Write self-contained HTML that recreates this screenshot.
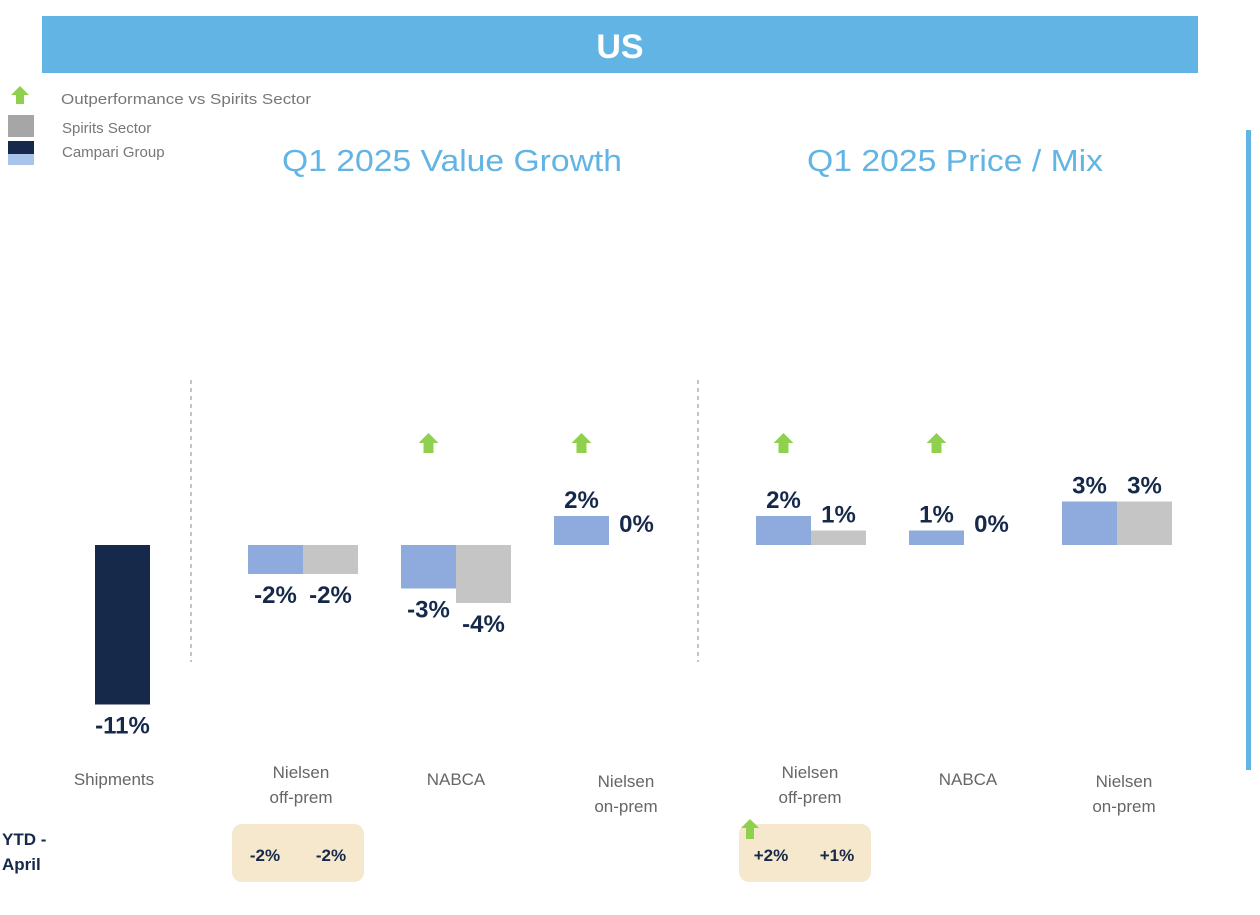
<!DOCTYPE html>
<html><head><meta charset="utf-8"><style>
body{margin:0;width:1260px;height:910px;background:#fff;overflow:hidden;font-family:"Liberation Sans",sans-serif;}
</style></head><body>
<svg id="c" width="1260" height="910" xmlns="http://www.w3.org/2000/svg">
<rect x="42" y="16" width="1156" height="57" fill="#62b4e4"/>
<text x="620" y="58" text-anchor="middle" font-size="34" font-weight="bold" fill="#fff">US</text>
<g>
<polygon points="20,86 11,95 16,95 16,104 24,104 24,95 29,95" fill="#8fd14f"/>
<text x="61" y="104" font-size="15" fill="#777" textLength="250" lengthAdjust="spacingAndGlyphs">Outperformance vs Spirits Sector</text>
<rect x="8" y="115" width="26" height="22" fill="#a6a6a6"/>
<text x="62" y="133" font-size="15" fill="#777">Spirits Sector</text>
<rect x="8" y="141" width="26" height="13" fill="#16294b"/>
<rect x="8" y="154" width="26" height="11" fill="#a9c4ea"/>
<text x="62" y="157" font-size="15" fill="#777">Campari Group</text>
</g>
<text x="452" y="171" text-anchor="middle" font-size="31" fill="#62b4e4" textLength="340" lengthAdjust="spacingAndGlyphs">Q1 2025 Value Growth</text>
<text x="955" y="171" text-anchor="middle" font-size="31" fill="#62b4e4" textLength="296" lengthAdjust="spacingAndGlyphs">Q1 2025 Price / Mix</text>
<line x1="191" y1="380" x2="191" y2="662" stroke="#888" stroke-dasharray="4,4"/>
<line x1="698" y1="380" x2="698" y2="662" stroke="#888" stroke-dasharray="4,4"/>
<rect x="1246" y="130" width="5" height="640" fill="#62b4e4"/>
<g id="bars"></g>
<text x="2" y="845" font-size="17" font-weight="bold" fill="#16294b">YTD -</text>
<text x="2" y="870" font-size="17" font-weight="bold" fill="#16294b">April</text>
<rect x="232" y="824" width="132" height="58" rx="10" fill="#f5e8cc"/>
<text x="265" y="861" text-anchor="middle" font-size="17" font-weight="bold" fill="#16294b">-2%</text>
<text x="331" y="861" text-anchor="middle" font-size="17" font-weight="bold" fill="#16294b">-2%</text>
<rect x="739" y="824" width="132" height="58" rx="10" fill="#f5e8cc"/>
<polygon points="750,819 741,828 746,828 746,839 754,839 754,828 759,828" fill="#8fd14f"/>
<text x="771" y="861" text-anchor="middle" font-size="17" font-weight="bold" fill="#16294b">+2%</text>
<text x="837" y="861" text-anchor="middle" font-size="17" font-weight="bold" fill="#16294b">+1%</text>
</svg>
<script>
const categories=["Shipments","Nielsen|off-prem","NABCA","Nielsen|on-prem","Nielsen|off-prem","NABCA","Nielsen|on-prem"];
const campari=[-11,-2,-3,2,2,1,3];
const sector=[null,-2,-4,0,1,0,3];
const outperform=[false,false,true,true,true,true,false];
const groupX=[95,248,401,554,756,909,1062];
const catLabelX=[114,301,456,626,810,968,1124];
const catLabelY=[785,778,785,787,778,785,787];
const BASE=545,SCALE=14.5,BW=55;
function y(v){return BASE-v*SCALE;}
const g=document.getElementById('bars');
const NS="http://www.w3.org/2000/svg";
function mk(t,a){const e=document.createElementNS(NS,t);for(const k in a)e.setAttribute(k,a[k]);g.appendChild(e);return e;}
function label(x,v,i,s){
  const t=mk('text',{x:x+BW/2,'text-anchor':'middle','font-size':24,'font-weight':'bold',fill:'#16294b'});
  t.setAttribute('y', v>=0 ? Math.min(y(v),BASE)-8 : y(v)+29);
  if(v===0){t.setAttribute('y',BASE-13);}
  t.textContent=v+'%';
  
  
}
categories.forEach((c,i)=>{
  const x=groupX[i];
  const v=campari[i];
  const r=mk('rect',{x:x,y:Math.min(y(v),BASE),width:BW,height:Math.abs(v)*SCALE,fill:i===0?'#16294b':'#8faadc'});
  
  
  label(x,v,i,'campari');
  if(sector[i]!==null){
    const s=sector[i];
    const r2=mk('rect',{x:x+BW,y:Math.min(y(s),BASE),width:BW,height:Math.abs(s)*SCALE,fill:'#c4c5c4'});
    
    
    label(x+BW,s,i,'sector');
  }
  if(outperform[i]){
    const ax=x+BW/2;
    const p=mk('polygon',{points:`${ax},433 ${ax-10},443 ${ax-5},443 ${ax-5},453 ${ax+5},453 ${ax+5},443 ${ax+10},443`,fill:'#8fd14f'});
    
    
  }
  const lines=c.split('|');
  lines.forEach((ln,j)=>{
    const t=mk('text',{x:catLabelX[i],y:catLabelY[i]+j*25,'text-anchor':'middle','font-size':17,fill:'#666'});
    t.textContent=ln;
    
    
  });
});
</script>
</body></html>
